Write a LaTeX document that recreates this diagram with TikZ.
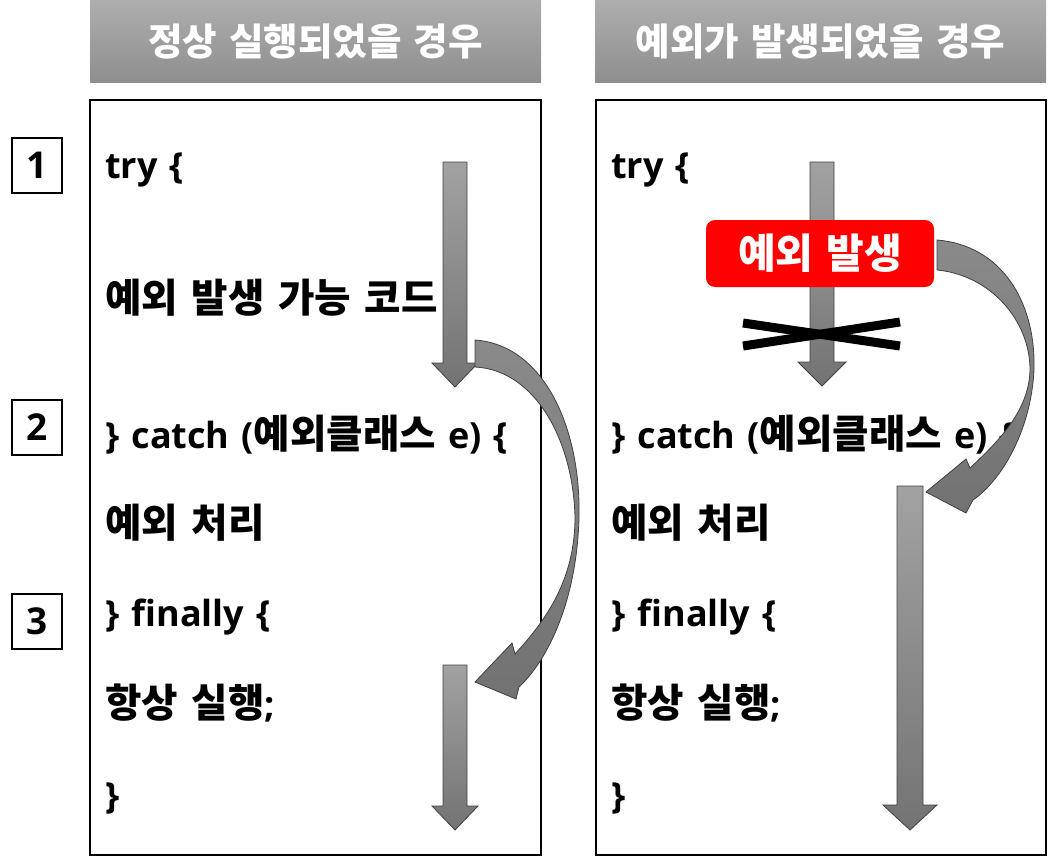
\documentclass[tikz,border=0pt]{standalone}
\usepackage{fontspec}
\setmainfont{Open Sans}[WordSpace=1.3]
\newfontfamily\kr{Noto Sans CJK KR}[WordSpace=1.4]
\newfontfamily\krc{Noto Sans CJK KR}[Scale=1.1, WordSpace=1.5]
\definecolor{arrtop}{HTML}{A2A2A2}
\definecolor{arrbot}{HTML}{737373}
\definecolor{curtop}{HTML}{8A8A8A}
\definecolor{curbot}{HTML}{727272}
\definecolor{hdrtop}{HTML}{AEAEAE}
\definecolor{hdrbot}{HTML}{8E8E8E}
\definecolor{exred}{HTML}{FF0000}
\tikzset{
  code/.style={anchor=base west, inner sep=0pt, font=\bfseries\fontsize{36}{40}\selectfont},
  hdrbox/.style={top color=hdrtop, bottom color=hdrbot, minimum width=451pt, minimum height=83pt, inner sep=0pt,
     text=white, font=\kr\bfseries\fontsize{37.5}{40}\selectfont},
  mainbox/.style={draw=black, line width=2pt, minimum width=451pt, minimum height=755pt, inner sep=0pt},
  numbox/.style={draw=black, line width=2pt, minimum width=50pt, minimum height=55pt, inner sep=0pt,
     font=\bfseries\fontsize{37}{40}\selectfont},
  garrow/.style={top color=arrtop, bottom color=arrbot, draw=black!75, line width=0.8pt, line join=miter},
  carrow/.style={top color=curtop, bottom color=curbot, draw=black!75, line width=0.8pt, line join=miter},
  redbox/.style={fill=exred, rounded corners=9pt, minimum width=228pt, minimum height=67pt, inner sep=0pt,
     text=white, font=\kr\bfseries\fontsize{41}{44}\selectfont},
  xline/.style={line width=9pt, draw=black},
}
\newcommand\garr[6]{% xc, ytop, ybase, ytip, shaft half, head half
  \shadedraw[garrow] ({#1-#5},#2) -- ({#1+#5},#2) -- ({#1+#5},#3) -- ({#1+#6},#3) -- (#1,#4)
     -- ({#1-#6},#3) -- ({#1-#5},#3) -- cycle;}
\begin{document}
\begin{tikzpicture}[x=1pt,y=-1pt]
\useasboundingbox (0,0) rectangle (1048,856);

% headers
\node[hdrbox] (h1) at (315.5,41.5) {정상 실행되었을 경우};
\node[hdrbox] (h2) at (820.5,41.5) {예외가 발생되었을 경우};

% main boxes
\node[mainbox] (b1) at (315.5,477.5) {};
\node[mainbox, minimum width=450pt] (b2) at (820.5,477.5) {};

% number boxes
\node[numbox] (n1) at (37,165.5) {1};
\node[numbox] (n2) at (37,427) {2};
\node[numbox] (n3) at (37,621) {3};

% left code
\node[code] (l1) at (105,178) {try \{};
\node[code] (l2) at (105,312) {\krc 예외 발생 가능 코드};
\node[code] (l3) at (105,448) {\} catch ({\krc 예외클래스} e) \{};
\node[code] (l4) at (105,537) {\krc 예외 처리};
\node[code] (l5) at (105,626) {\} finally \{};
\node[code] (l6) at (105,717) {{\krc 항상 실행};};
\node[code] (l7) at (105,808) {\}};

% right code
\node[code] (r1) at (611,178) {try \{};
\node[code] (r3) at (611,448) {\} catch ({\krc 예외클래스} e) \{};
\node[code] (r4) at (611,537) {\krc 예외 처리};
\node[code] (r5) at (611,626) {\} finally \{};
\node[code] (r6) at (611,717) {{\krc 항상 실행};};
\node[code] (r7) at (611,808) {\}};

% left arrows
\garr{455}{162}{363}{387}{12}{23}
\garr{455}{665}{806}{830}{12}{23}
\shadedraw[carrow] (475,340) .. controls (545,345) and (581,430) .. (579,517)
   .. controls (577,600) and (548,660) .. (519,687) -- (516,699) -- (475,682) -- (512,643) -- (515,654)
   .. controls (546,620) and (575,580) .. (575,517)
   .. controls (573,440) and (535,370) .. (475,367) -- cycle;

% right arrows
\garr{822}{162}{362}{386}{12}{24}
\garr{910}{486}{805}{830}{13}{27}
\shadedraw[carrow] (937,240) .. controls (1000,245) and (1036,300) .. (1034,370)
   .. controls (1031,430) and (1002,480) .. (973,500) -- (966,513) -- (926,492) -- (966,459) -- (970,468)
   .. controls (1000,440) and (1029,410) .. (1030,370)
   .. controls (1030,320) and (990,275) .. (937,270) -- cycle;

% exception box and cross
\node[redbox] (ex) at (820,253.5) {예외 발생};
\draw[xline] (743,323) -- (900,346);
\draw[xline] (743,346) -- (900,322);
\end{tikzpicture}
\end{document}
